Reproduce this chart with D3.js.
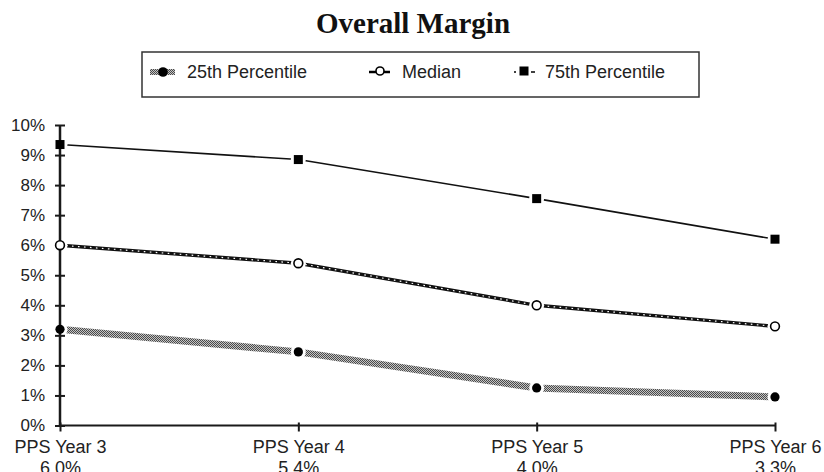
<!DOCTYPE html>
<html>
<head>
<meta charset="utf-8">
<script src="https://cdn.jsdelivr.net/npm/d3@7"></script>
<style>
  html, body { margin: 0; padding: 0; background: #fff; }
  svg { display: block; }
</style>
</head>
<body>
<svg id="chart" width="824" height="472"></svg>
<script>
// ---- data ----
const categories = ["PPS Year 3", "PPS Year 4", "PPS Year 5", "PPS Year 6"];
const subLabels = ["6.0%", "5.4%", "4.0%", "3.3%"];
const p25 = [3.2, 2.45, 1.25, 0.95];
const median = [6.0, 5.4, 4.0, 3.3];
const p75 = [9.35, 8.85, 7.55, 6.2];
const yTicks = [0, 1, 2, 3, 4, 5, 6, 7, 8, 9, 10];
const seriesNames = ["25th Percentile", "Median", "75th Percentile"];
const title = "Overall Margin";

const svg = d3.select("#chart");
const sans = "'Liberation Sans', Arial, Helvetica, sans-serif";
const ink = "#1a1a1a";

// pattern for the 25th percentile band
const defs = svg.append("defs");
const pat = defs.append("pattern").attr("id", "hatch")
  .attr("patternUnits", "userSpaceOnUse").attr("width", 2).attr("height", 2);
pat.append("rect").attr("width", 2).attr("height", 2).attr("fill", "#c4c4c4");
pat.append("rect").attr("width", 1).attr("height", 1).attr("fill", "#4a4a4a");
pat.append("rect").attr("x", 1).attr("y", 1).attr("width", 1).attr("height", 1).attr("fill", "#4a4a4a");

// scales
const x = d3.scalePoint().domain(categories).range([60, 775]);
const y = d3.scaleLinear().domain([0, 10]).range([425.5, 125]);

// title
svg.append("text").attr("x", 413).attr("y", 33).attr("text-anchor", "middle")
  .attr("font-family", "'Liberation Serif', 'Times New Roman', serif")
  .attr("font-weight", "bold").attr("font-size", 29).attr("fill", "#111")
  .text(title);

// legend
const lg = svg.append("g");
lg.append("rect").attr("x", 142).attr("y", 52).attr("width", 557).attr("height", 45)
  .attr("fill", "none").attr("stroke", "#333").attr("stroke-width", 1.5);
const legendText = [187, 402, 545];
const legendMark = [163, 380, 524];
// 25th
lg.append("line").attr("x1", legendMark[0] - 13).attr("x2", legendMark[0] + 12)
  .attr("y1", 72).attr("y2", 72).attr("stroke", "url(#hatch)").attr("stroke-width", 6);
lg.append("circle").attr("cx", legendMark[0]).attr("cy", 72).attr("r", 4.8).attr("fill", "#000");
// median
lg.append("line").attr("x1", legendMark[1] - 11).attr("x2", legendMark[1] + 10)
  .attr("y1", 72).attr("y2", 72).attr("stroke", "#000").attr("stroke-width", 2.5);
lg.append("circle").attr("cx", legendMark[1]).attr("cy", 71).attr("r", 4)
  .attr("fill", "#fff").attr("stroke", "#000").attr("stroke-width", 1.6);
// 75th
lg.append("line").attr("x1", legendMark[2] - 10).attr("x2", legendMark[2] - 8)
  .attr("y1", 72).attr("y2", 72).attr("stroke", "#000").attr("stroke-width", 1.5);
lg.append("line").attr("x1", legendMark[2] + 7).attr("x2", legendMark[2] + 11)
  .attr("y1", 72).attr("y2", 72).attr("stroke", "#000").attr("stroke-width", 1.5);
lg.append("rect").attr("x", legendMark[2] - 4.5).attr("y", 66.5).attr("width", 9).attr("height", 9).attr("fill", "#000");
seriesNames.forEach((n, i) => {
  lg.append("text").attr("x", legendText[i]).attr("y", 78)
    .attr("font-family", sans).attr("font-size", 18).attr("fill", "#222").text(n);
});

// lines
const line = d3.line().x((d, i) => x(categories[i])).y(d => y(d));
svg.append("path").datum(p75).attr("d", line).attr("fill", "none")
  .attr("stroke", "#111").attr("stroke-width", 1.6);
svg.append("path").datum(median).attr("d", line).attr("fill", "none")
  .attr("stroke", "#111").attr("stroke-width", 3.4);
svg.append("path").datum(median).attr("d", line).attr("fill", "none")
  .attr("stroke", "#fff").attr("stroke-width", 1.2).attr("stroke-dasharray", "1.6,4.4");
svg.append("path").datum(p25).attr("d", line).attr("fill", "none")
  .attr("stroke", "url(#hatch)").attr("stroke-width", 7);

// halos (gaps around markers)
[p25, median, p75].forEach(s => {
  svg.append("g").selectAll("circle").data(s).join("circle")
    .attr("cx", (d, i) => x(categories[i])).attr("cy", d => y(d))
    .attr("r", 7.5).attr("fill", "#fff");
});

// y axis
const yAxis = svg.append("g").attr("transform", "translate(60,0)")
  .call(d3.axisLeft(y).tickValues(yTicks).tickSize(5).tickPadding(10).tickFormat(d => d + "%"));
yAxis.select(".domain").remove();
yAxis.selectAll(".tick line").attr("x1", 5).attr("stroke", ink).attr("stroke-width", 2);
yAxis.selectAll(".tick text").attr("font-family", sans).attr("font-size", 17).attr("fill", "#222");
yAxis.append("line").attr("x1", 0).attr("x2", 0).attr("y1", y(10)).attr("y2", y(0))
  .attr("stroke", ink).attr("stroke-width", 2.5);

// x axis
const xAxis = svg.append("g").attr("transform", `translate(0,${y(0)})`)
  .call(d3.axisBottom(x).tickSize(6).tickPadding(9));
xAxis.select(".domain").remove();
xAxis.append("line").attr("x1", x(categories[0])).attr("x2", x(categories[3]))
  .attr("y1", 0).attr("y2", 0).attr("stroke", ink).attr("stroke-width", 2.2);
xAxis.selectAll(".tick line").attr("y1", -3).attr("stroke", ink).attr("stroke-width", 2);
xAxis.selectAll(".tick text").attr("font-family", sans).attr("font-size", 18).attr("fill", "#222")
  .each(function(d, i) {
    const t = d3.select(this);
    t.text(null);
    t.append("tspan").attr("x", 0).attr("dy", "0.71em").text(d);
    t.append("tspan").attr("x", 0).attr("dy", "1.15em").text(subLabels[i]);
  });

// markers
svg.append("g").selectAll("circle").data(p25).join("circle")
  .attr("cx", (d, i) => x(categories[i])).attr("cy", d => y(d))
  .attr("r", 4.6).attr("fill", "#000");
svg.append("g").selectAll("circle").data(median).join("circle")
  .attr("cx", (d, i) => x(categories[i])).attr("cy", d => y(d))
  .attr("r", 4.4).attr("fill", "#fff").attr("stroke", "#000").attr("stroke-width", 1.6);
svg.append("g").selectAll("rect").data(p75).join("rect")
  .attr("x", (d, i) => x(categories[i]) - 4.5).attr("y", d => y(d) - 4.5)
  .attr("width", 9).attr("height", 9).attr("fill", "#000");
</script>
</body>
</html>
